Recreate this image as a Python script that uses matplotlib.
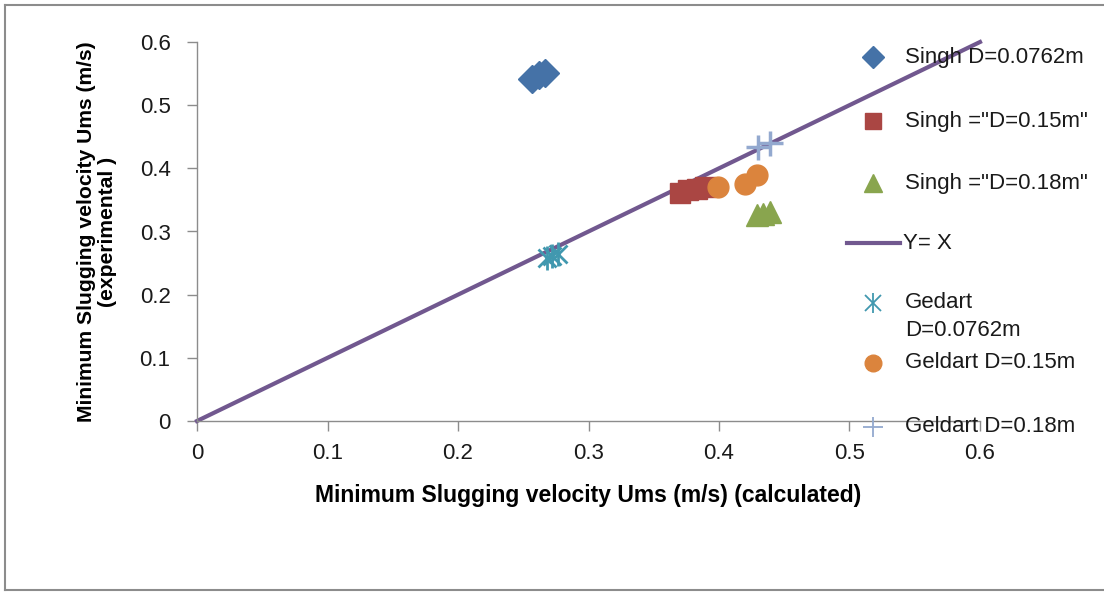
import matplotlib
matplotlib.use("Agg")
import matplotlib.pyplot as plt
from matplotlib.lines import Line2D

plt.rcParams['font.family'] = ['Liberation Sans', 'DejaVu Sans']

# Data
singh_0762_x = [0.257, 0.262, 0.267]
singh_0762_y = [0.542, 0.547, 0.551]
singh_015_x = [0.370, 0.376, 0.383, 0.389]
singh_015_y = [0.361, 0.365, 0.368, 0.371]
singh_018_x = [0.429, 0.434, 0.439]
singh_018_y = [0.326, 0.328, 0.331]
yx_x = [0.0, 0.6]
yx_y = [0.0, 0.6]
gedart_0762_x = [0.268, 0.272, 0.277]
gedart_0762_y = [0.258, 0.262, 0.265]
geldart_015_x = [0.399, 0.420, 0.429]
geldart_015_y = [0.370, 0.375, 0.389]
geldart_018_x = [0.430, 0.439]
geldart_018_y = [0.434, 0.440]

ticks = [0, 0.1, 0.2, 0.3, 0.4, 0.5, 0.6]
tick_labels = ['0', '0.1', '0.2', '0.3', '0.4', '0.5', '0.6']

labels = ['Singh D=0.0762m', 'Singh ="D=0.15m"', 'Singh ="D=0.18m"', 'Y= X',
          'Gedart\nD=0.0762m', 'Geldart D=0.15m', 'Geldart D=0.18m']

c_diam, c_sq, c_tri, c_line = '#4572A7', '#AA4643', '#89A54E', '#71588F'
c_star, c_circ, c_plus = '#4198AF', '#DB843D', '#93A9CF'

W, H = 1104, 592
fig = plt.figure(figsize=(W/100, H/100), dpi=100)
ax = fig.add_axes([197/W, 1-421/H, (980-197)/W, (421-42)/H])

ax.plot(singh_0762_x, singh_0762_y, 'D', color=c_diam, ms=14, ls='none', zorder=3)
ax.plot(singh_015_x, singh_015_y, 's', color=c_sq, ms=14, ls='none', zorder=3)
ax.plot(singh_018_x, singh_018_y, '^', color=c_tri, ms=16, ls='none', zorder=3)
ax.plot(yx_x, yx_y, '-', color=c_line, lw=3, clip_on=False, zorder=2)
ax.plot(gedart_0762_x, gedart_0762_y, 'x', color=c_star, ms=13, mew=2, ls='none', zorder=3)
ax.plot(gedart_0762_x, gedart_0762_y, '|', color=c_star, ms=17, mew=2, ls='none', zorder=3)
ax.plot(geldart_015_x, geldart_015_y, 'o', color=c_circ, ms=15, ls='none', zorder=3)
ax.plot(geldart_018_x, geldart_018_y, '+', color=c_plus, ms=18, mew=2.5, ls='none', zorder=3)

ax.set_xlim(0, 0.6)
ax.set_ylim(0, 0.6)
ax.set_xticks(ticks)
ax.set_xticklabels(tick_labels)
ax.set_yticks(ticks)
ax.set_yticklabels(tick_labels)
for s in ['top', 'right']:
    ax.spines[s].set_visible(False)
for s in ['left', 'bottom']:
    ax.spines[s].set_color('#8c8c8c')
    ax.spines[s].set_linewidth(1.0)
ax.tick_params(axis='both', colors='#8c8c8c', labelcolor='#1a1a1a', labelsize=16,
               length=7, width=1)
ax.tick_params(axis='x', pad=9)
ax.tick_params(axis='y', pad=12)

ax.set_xlabel('Minimum Slugging velocity Ums (m/s) (calculated)', fontsize=16.5,
              fontweight='bold', labelpad=14)
ax.set_ylabel('Minimum Slugging velocity Ums (m/s)\n(experimental )', fontsize=15.2,
              fontweight='bold', labelpad=16, linespacing=1.15)

# manual legend (Excel-like spacing)
def fx(px):
    return px / W

def fy(py):
    return 1 - py / H

mx, tx = 873, 905
leg_rows = [57, 121, 183, 243, 303, 363, 427]
fs = 16
fig.add_artist(Line2D([fx(mx)], [fy(leg_rows[0])], marker='D', ms=11, color=c_diam,
                      ls='none', transform=fig.transFigure))
fig.add_artist(Line2D([fx(mx)], [fy(leg_rows[1])], marker='s', ms=12, color=c_sq,
                      ls='none', transform=fig.transFigure))
fig.add_artist(Line2D([fx(mx)], [fy(leg_rows[2])], marker='^', ms=13, color=c_tri,
                      ls='none', transform=fig.transFigure))
fig.add_artist(Line2D([fx(847), fx(900)], [fy(leg_rows[3])] * 2, color=c_line, lw=3,
                      transform=fig.transFigure))
fig.add_artist(Line2D([fx(mx)], [fy(leg_rows[4])], marker='x', ms=11, mew=1.3,
                      color=c_star, ls='none', transform=fig.transFigure))
fig.add_artist(Line2D([fx(mx)], [fy(leg_rows[4])], marker='|', ms=15, mew=1.3,
                      color=c_star, ls='none', transform=fig.transFigure))
fig.add_artist(Line2D([fx(mx)], [fy(leg_rows[5])], marker='o', ms=12, color=c_circ,
                      ls='none', transform=fig.transFigure))
fig.add_artist(Line2D([fx(mx)], [fy(leg_rows[6])], marker='+', ms=14, mew=1.3,
                      color=c_plus, ls='none', transform=fig.transFigure))
for i, (lab, row) in enumerate(zip(labels, leg_rows)):
    x0 = 903 if i == 3 else tx
    if '\n' in lab:
        first, second = lab.split('\n')
        fig.text(fx(x0), fy(row), first, fontsize=fs, va='center', ha='left', color='#1a1a1a')
        fig.text(fx(x0), fy(row + 28), second, fontsize=fs, va='center', ha='left',
                 color='#1a1a1a')
    else:
        fig.text(fx(x0), fy(row), lab, fontsize=fs, va='center', ha='left', color='#1a1a1a')

# figure border
for xs, ys in [([5, W], [5, 5]), ([5, 5], [5, 590]), ([5, W], [590, 590])]:
    fig.add_artist(Line2D([fx(v) for v in xs], [fy(v) for v in ys],
                          transform=fig.transFigure, color='#8c8c8c', lw=1.5))

fig.savefig('out.png', dpi=100)
